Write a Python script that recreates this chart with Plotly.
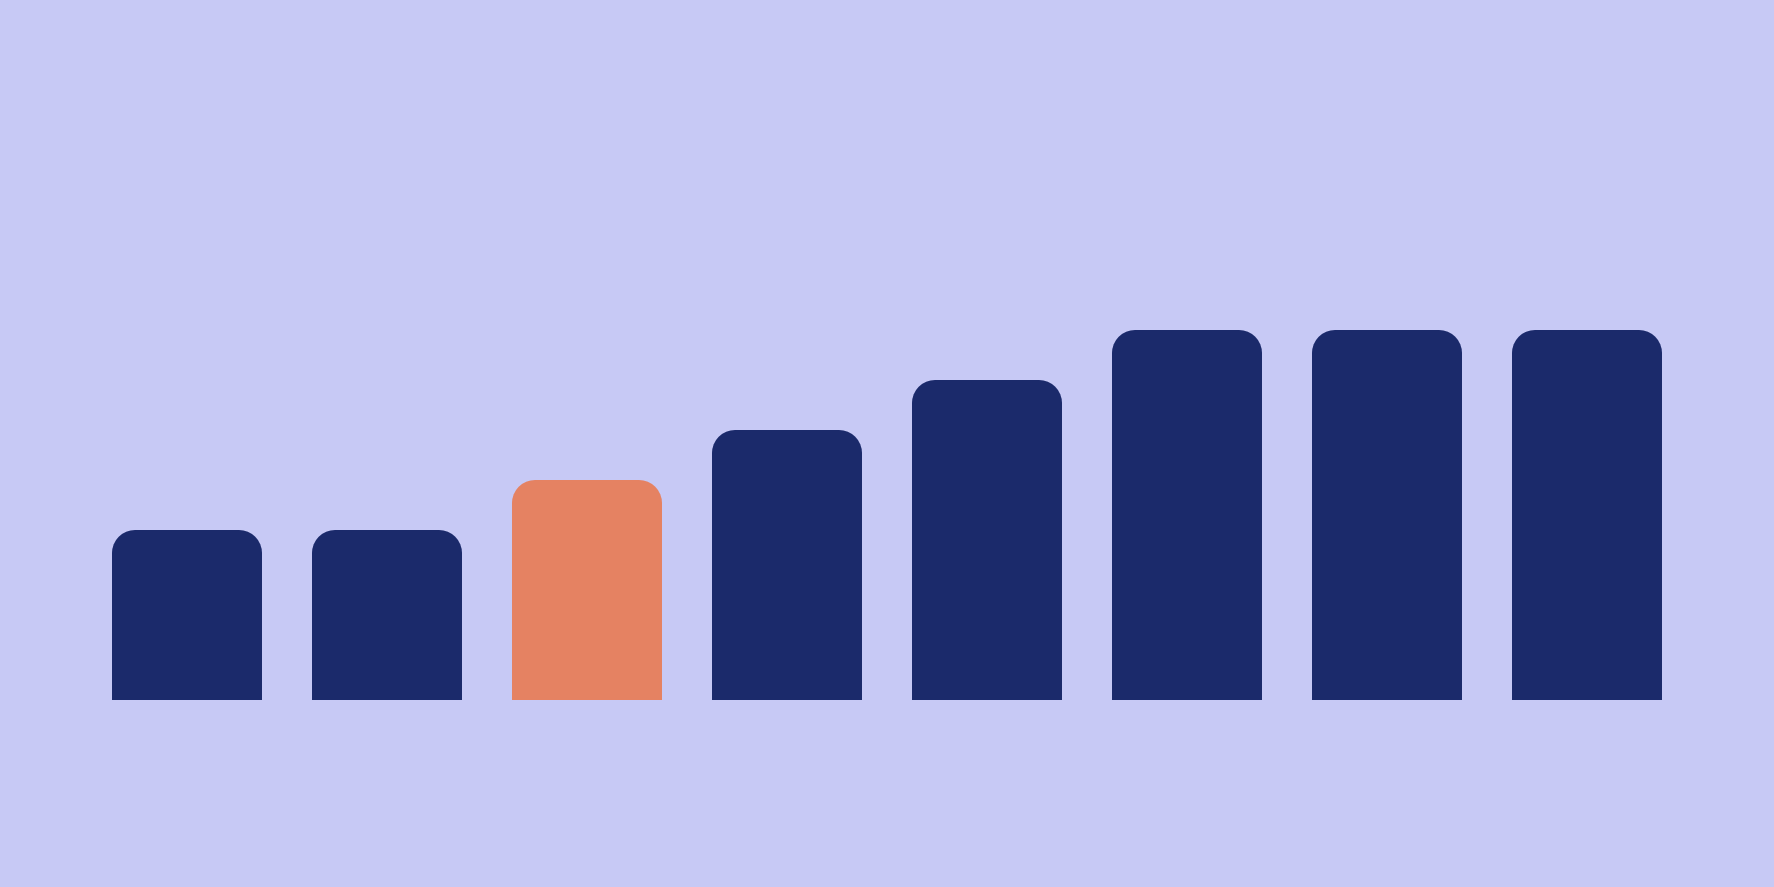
import plotly.graph_objects as go

# bar data
categories = ['a', 'b', 'c', 'd', 'e', 'f', 'g', 'h']
values = [34, 34, 44, 54, 64, 74, 74, 74]
highlight = 'c'

navy = '#1B2A6B'
orange = '#E58262'
bg = '#C7C9F5'

colors = [orange if c == highlight else navy for c in categories]

fig = go.Figure(go.Bar(
    x=categories,
    y=values,
    marker=dict(color=colors, cornerradius=23, line=dict(width=0)),
    hoverinfo='skip'
))

fig.update_layout(
    width=1774,
    height=887,
    margin=dict(l=87, r=87, t=200, b=187),
    paper_bgcolor=bg,
    plot_bgcolor=bg,
    bargap=0.25,
    showlegend=False,
    xaxis=dict(visible=False),
    yaxis=dict(visible=False, range=[0, 100])
)

#drop the default page margin so the figure sits at 0,0
fig.write_html(
    "out.html",
    config={'displayModeBar': False},
    post_script="document.body.style.margin='0';"
)
